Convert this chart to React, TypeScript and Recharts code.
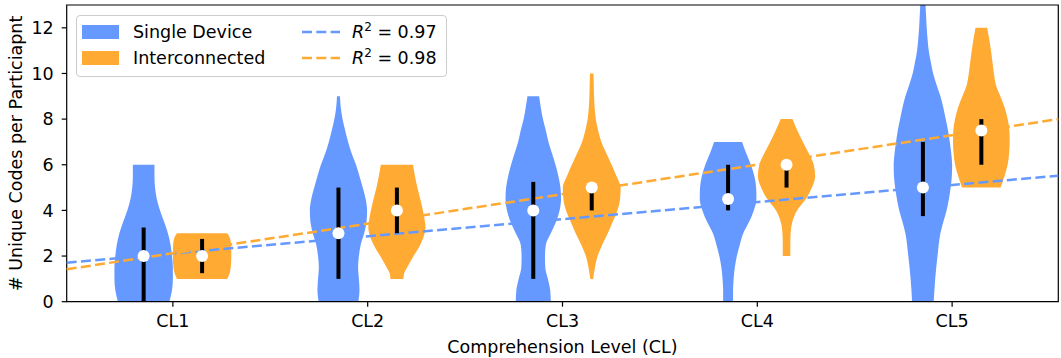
import React from 'react';
import {
  ComposedChart,
  Area,
  Scatter,
  XAxis,
  YAxis,
  ReferenceLine,
  ReferenceArea,
} from 'recharts';

const categories = ['CL1', 'CL2', 'CL3', 'CL4', 'CL5'];
const groups = ['Single Device', 'Interconnected'];
const colors = ['#6699ff', '#ffaa33'];
const fitLabels = ['0.97', '0.98'];

// violin outlines: [value, relative half width]
const singleCL1 = [[0, 0.88], [0.5, 0.97], [1, 1.0], [1.5, 1.0], [2, 0.97], [2.5, 0.92], [3, 0.83], [3.5, 0.7], [4, 0.56], [4.5, 0.45], [5, 0.39], [5.5, 0.37], [6, 0.37]];
const singleCL2 = [[0, 0.68], [0.5, 0.72], [1, 0.7], [1.5, 0.67], [2, 0.7], [2.5, 0.76], [3, 0.88], [3.5, 0.96], [4, 0.98], [4.5, 0.93], [5, 0.83], [5.5, 0.72], [6, 0.6], [6.5, 0.45], [7, 0.33], [7.5, 0.23], [8, 0.14], [8.5, 0.08], [9, 0.05]];
const singleCL3 = [[0, 0.6], [0.5, 0.58], [1, 0.5], [1.5, 0.41], [2, 0.4], [2.5, 0.43], [3, 0.6], [3.5, 0.78], [4, 0.9], [4.5, 0.95], [5, 0.93], [5.5, 0.86], [6, 0.76], [6.5, 0.64], [7, 0.52], [7.5, 0.43], [8, 0.33], [8.5, 0.26], [9, 0.2]];
const singleCL4 = [[0, 0.17], [0.5, 0.17], [1, 0.19], [1.5, 0.23], [2, 0.3], [2.5, 0.4], [3, 0.52], [3.5, 0.72], [4, 0.88], [4.5, 0.97], [5, 0.96], [5.5, 0.9], [6, 0.78], [6.5, 0.62], [7, 0.48]];
const singleCL5 = [[0, 0.37], [1, 0.42], [2, 0.5], [3, 0.6], [3.5, 0.7], [4, 0.81], [4.5, 0.89], [5, 0.95], [5.5, 0.99], [6, 1.0], [6.5, 0.97], [7, 0.92], [7.5, 0.86], [8, 0.78], [8.5, 0.7], [9, 0.6], [9.5, 0.47], [10, 0.35], [10.5, 0.27], [11, 0.2], [11.5, 0.16], [12, 0.13], [12.5, 0.11], [13, 0.09], [14, 0.06]];

const interCL1 = [[1, 0.86], [1.2, 0.93], [1.5, 0.98], [2, 1.0], [2.5, 0.99], [2.8, 0.95], [3, 0.86]];
const interCL2 = [[1, 0.22], [1.25, 0.25], [1.5, 0.35], [2, 0.57], [2.5, 0.8], [3, 0.95], [3.25, 0.98], [3.5, 0.96], [4, 0.89], [4.5, 0.8], [5, 0.7], [5.5, 0.62], [6, 0.55]];
const interCL3 = [[1, 0.05], [1.5, 0.11], [2, 0.2], [2.5, 0.36], [3, 0.55], [3.5, 0.72], [4, 0.88], [4.5, 0.97], [5, 0.99], [5.5, 0.85], [6, 0.68], [6.5, 0.5], [7, 0.33], [7.5, 0.22], [8, 0.14], [8.5, 0.1], [9, 0.08], [9.5, 0.07], [10, 0.06]];
const interCL4 = [[2, 0.13], [2.5, 0.13], [3, 0.14], [3.5, 0.2], [4, 0.36], [4.5, 0.66], [5, 0.87], [5.5, 0.98], [6, 0.93], [6.5, 0.76], [7, 0.56], [7.5, 0.37], [8, 0.2]];
const interCL5 = [[5, 0.66], [5.5, 0.79], [6, 0.9], [6.5, 0.95], [7, 0.97], [7.5, 0.96], [8, 0.9], [8.5, 0.8], [9, 0.65], [9.5, 0.5], [10, 0.43], [10.5, 0.38], [11, 0.33], [11.5, 0.27], [12, 0.2]];

const singleViolins = [singleCL1, singleCL2, singleCL3, singleCL4, singleCL5];
const interViolins = [interCL1, interCL2, interCL3, interCL4, interCL5];

const singleMedian = [2, 3, 4, 4.5, 5];
const singleQ1 = [0, 1, 1, 4, 3.75];
const singleQ3 = [3.25, 5, 5.25, 6, 7];
const interMedian = [2, 4, 5, 6, 7.5];
const interQ1 = [1.25, 3, 4, 5, 6];
const interQ3 = [2.75, 5, 5, 6, 8];

// dashed fit lines, endpoints at the plot edges
const singleFit = [[0.455, 1.71], [5.545, 5.52]];
const interFit = [[0.455, 1.42], [5.545, 8.0]];

const X_DOMAIN = [0.455, 5.545];
const Y_DOMAIN = [0, 13];
const HALF = 0.15; // widest half of a violin
const SHIFT = 0.15; // offset of each group from the category tick
const FONT = '"DejaVu Sans", sans-serif';
const FS = 17.5;
const DASH = '10 4.3';

const violinData = (profile: number[][], pos: number) =>
  profile.map(([y, w]) => ({ y, v: [pos - w * HALF, pos + w * HALF] }));

const groupSets = [
  { violins: singleViolins, median: singleMedian, q1: singleQ1, q3: singleQ3, shift: -SHIFT },
  { violins: interViolins, median: interMedian, q1: interQ1, q3: interQ3, shift: SHIFT },
];

const Dot = (p: any) => <circle cx={p.cx} cy={p.cy} r={6} fill="#fff" />;

const tickStyle = { fill: '#000', fontSize: FS, fontFamily: FONT };

const LegendBox = () => (
  <div
    style={{
      position: 'absolute',
      left: 76,
      top: 15,
      width: 371,
      height: 62,
      boxSizing: 'border-box',
      border: '1px solid #cccccc',
      borderRadius: 4,
      background: 'rgba(255,255,255,0.8)',
      fontFamily: FONT,
      fontSize: FS,
      color: '#000',
    }}
  >
    {groups.map((g, i) => {
      const cy = 16 + i * 26.3;
      return (
        <React.Fragment key={g}>
          <div style={{ position: 'absolute', left: 5, top: cy - 7.5, width: 37, height: 14.5, background: colors[i] }} />
          <div style={{ position: 'absolute', left: 56, top: cy - 11, lineHeight: '22px', whiteSpace: 'nowrap' }}>{g}</div>
          <svg style={{ position: 'absolute', left: 225, top: cy - 3 }} width={38} height={6}>
            <line x1={0} y1={3} x2={38} y2={3} stroke={colors[i]} strokeWidth={2.5} strokeDasharray={DASH} />
          </svg>
          <div style={{ position: 'absolute', left: 275, top: cy - 11, lineHeight: '22px', whiteSpace: 'nowrap' }}>
            <i>R</i>
            <span style={{ fontSize: 12, verticalAlign: 'super', lineHeight: 0 }}>2</span> = {fitLabels[i]}
          </div>
        </React.Fragment>
      );
    })}
  </div>
);

export default function App() {
  return (
    <div style={{ position: 'absolute', left: 0, top: 0, width: 1061, height: 358, background: '#fff' }}>
      <ComposedChart
        width={1061}
        height={358}
        layout="vertical"
        margin={{ top: 5, right: 2.7, left: 0, bottom: 0 }}
        style={{ fontFamily: FONT }}
      >
        <XAxis
          type="number"
          domain={X_DOMAIN}
          allowDataOverflow
          ticks={[1, 2, 3, 4, 5]}
          interval={0}
          tickFormatter={(v: number) => categories[v - 1]}
          tick={tickStyle}
          tickSize={5}
          tickMargin={8}
          tickLine={{ stroke: '#000', strokeWidth: 1.2 }}
          axisLine={false}
          height={56.3}
          label={{
            value: 'Comprehension Level (CL)',
            position: 'insideBottom',
            offset: 5.5,
            style: { fill: '#000', fontSize: FS, fontFamily: FONT },
          }}
        />
        <YAxis
          type="number"
          dataKey="y"
          domain={Y_DOMAIN}
          allowDataOverflow
          reversed
          ticks={[0, 2, 4, 6, 8, 10, 12]}
          interval={0}
          tick={tickStyle}
          tickSize={5}
          tickMargin={8}
          tickLine={{ stroke: '#000', strokeWidth: 1.2 }}
          axisLine={false}
          width={66.7}
          label={{
            value: '# Unique Codes per Particiapnt',
            angle: -90,
            position: 'insideLeft',
            offset: 15.5,
            style: { fill: '#000', fontSize: FS, fontFamily: FONT, textAnchor: 'middle' },
          }}
        />
        {groupSets.map((gs, gi) =>
          gs.violins.map((profile, ci) => (
            <Area
              key={`v-${gi}-${ci}`}
              data={violinData(profile, ci + 1 + gs.shift)}
              dataKey="v"
              type="monotone"
              stroke="none"
              fill={colors[gi]}
              fillOpacity={1}
              isAnimationActive={false}
              dot={false}
              activeDot={false}
            />
          ))
        )}
        {[singleFit, interFit].map((f, i) => (
          <ReferenceLine
            key={`fit-${i}`}
            segment={[{ x: f[0][0], y: f[0][1] }, { x: f[1][0], y: f[1][1] }]}
            stroke={colors[i]}
            strokeWidth={2.5}
            strokeDasharray={DASH}
            ifOverflow="visible"
          />
        ))}
        {groupSets.map((gs, gi) =>
          categories.map((c, ci) => (
            <ReferenceLine
              key={`iqr-${gi}-${c}`}
              segment={[{ x: ci + 1 + gs.shift, y: gs.q1[ci] }, { x: ci + 1 + gs.shift, y: gs.q3[ci] }]}
              stroke="#000"
              strokeWidth={4}
              ifOverflow="visible"
            />
          ))
        )}
        {groupSets.map((gs, gi) => (
          <Scatter
            key={`med-${gi}`}
            data={gs.median.map((m, ci) => ({ x: ci + 1 + gs.shift, y: m }))}
            dataKey="x"
            shape={Dot}
            isAnimationActive={false}
          />
        ))}
        <ReferenceArea
          x1={X_DOMAIN[0]}
          x2={X_DOMAIN[1]}
          y1={Y_DOMAIN[0]}
          y2={Y_DOMAIN[1]}
          fill="none"
          fillOpacity={0}
          stroke="#000"
          strokeWidth={1.2}
          ifOverflow="visible"
        />
      </ComposedChart>
      <LegendBox />
    </div>
  );
}
